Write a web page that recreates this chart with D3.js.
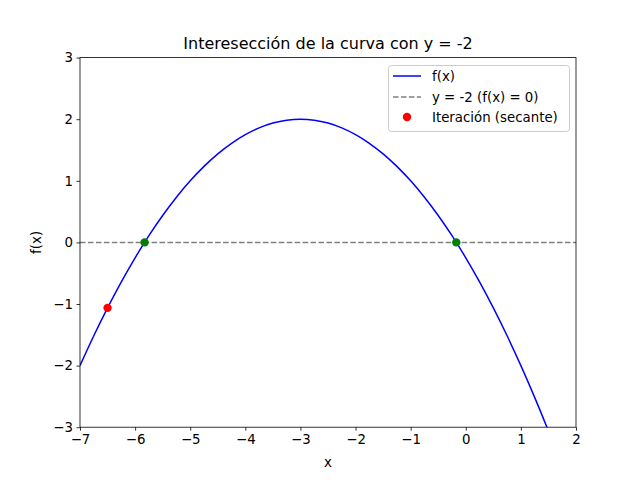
<!DOCTYPE html>
<html>
<head>
<meta charset="utf-8">
<script src="https://cdn.jsdelivr.net/npm/d3@7"></script>
<style>
  html, body { margin: 0; padding: 0; background: #fff; }
  svg text { font-family: "DejaVu Sans", sans-serif; }
</style>
</head>
<body>
<script>
// ---- Data ----
const curveX = [-7, -6.75, -6.5, -6.25, -6, -5.75, -5.5, -5.25, -5, -4.75, -4.5, -4.25, -4, -3.75, -3.5, -3.25, -3, -2.75, -2.5, -2.25, -2, -1.75, -1.5, -1.25, -1, -0.75, -0.5, -0.25, 0, 0.25, 0.5, 0.75, 1, 1.25, 1.5, 1.75, 2];
const curveY = [-2, -1.5156, -1.0625, -0.6406, -0.25, 0.1094, 0.4375, 0.7344, 1, 1.2344, 1.4375, 1.6094, 1.75, 1.8594, 1.9375, 1.9844, 2, 1.9844, 1.9375, 1.8594, 1.75, 1.6094, 1.4375, 1.2344, 1, 0.7344, 0.4375, 0.1094, -0.25, -0.6406, -1.0625, -1.5156, -2, -2.5156, -3.0625, -3.6406, -4.25];
const refLineY = 0;
const iterX = [-6.5];
const iterY = [-1.0625];
const rootX = [-5.828, -0.172];
const rootY = [0, 0];
const xTicks = [-7, -6, -5, -4, -3, -2, -1, 0, 1, 2];
const yTicks = [-3, -2, -1, 0, 1, 2, 3];
const title = "Interesección de la curva con y = -2";
const legendLabels = ["f(x)", "y = -2 (f(x) = 0)", "Iteración (secante)"];

// ---- Layout ----
const W = 640, H = 480;
const L = 80, R = 576, T = 57.6, B = 427.2;

const svg = d3.select("body").append("svg").attr("width", W).attr("height", H);

const x = d3.scaleLinear().domain([-7, 2]).range([L, R]);
const y = d3.scaleLinear().domain([-3, 3]).range([B, T]);

svg.append("defs").append("clipPath").attr("id", "clip")
  .append("rect").attr("x", L).attr("y", T).attr("width", R - L).attr("height", B - T);

const plot = svg.append("g").attr("clip-path", "url(#clip)");

// curve
const pts = curveX.map((v, i) => [v, curveY[i]]);
plot.append("path")
  .datum(pts)
  .attr("fill", "none")
  .attr("stroke", "blue")
  .attr("stroke-width", 1.5)
  .attr("d", d3.line().x(d => x(d[0])).y(d => y(d[1])).curve(d3.curveNatural));

// dashed reference line
plot.append("line")
  .attr("x1", L).attr("x2", R)
  .attr("y1", y(refLineY)).attr("y2", y(refLineY))
  .attr("stroke", "gray").attr("stroke-width", 1.5)
  .attr("stroke-dasharray", "5.55,2.4");

// iteration point
plot.selectAll("circle.iter").data(iterX).enter().append("circle")
  .attr("class", "iter")
  .attr("cx", d => x(d)).attr("cy", (d, i) => y(iterY[i]))
  .attr("r", 4.2).attr("fill", "red");

// roots
plot.selectAll("circle.root").data(rootX).enter().append("circle")
  .attr("class", "root")
  .attr("cx", d => x(d)).attr("cy", (d, i) => y(rootY[i]))
  .attr("r", 4.2).attr("fill", "green");

// axes
const fmt = d => (d < 0 ? "\u2212" + Math.abs(d) : String(d));
const xAxis = svg.append("g").attr("transform", `translate(0,${B})`)
  .call(d3.axisBottom(x).tickValues(xTicks).tickFormat(fmt).tickSize(3.5).tickPadding(3.5));
const yAxis = svg.append("g").attr("transform", `translate(${L},0)`)
  .call(d3.axisLeft(y).tickValues(yTicks).tickFormat(fmt).tickSize(3.5).tickPadding(3.5));
[xAxis, yAxis].forEach(a => {
  a.select(".domain").remove();
  a.selectAll("line").attr("stroke", "#000").attr("stroke-width", 0.8);
  a.selectAll("text").attr("font-size", "13.33px").attr("fill", "#000")
    .attr("font-family", "DejaVu Sans, sans-serif");
});

// frame
svg.append("rect").attr("x", L).attr("y", T).attr("width", R - L).attr("height", B - T)
  .attr("fill", "none").attr("stroke", "#000").attr("stroke-width", 0.8);

// labels
svg.append("text").attr("x", (L + R) / 2).attr("y", 49).attr("text-anchor", "middle")
  .attr("font-size", "16px").text(title);
svg.append("text").attr("x", (L + R) / 2).attr("y", 467).attr("text-anchor", "middle")
  .attr("font-size", "13.33px").text("x");
svg.append("text").attr("transform", `translate(41,${(T + B) / 2}) rotate(-90)`)
  .attr("text-anchor", "middle").attr("font-size", "13.33px").text("f(x)");

// legend
const lg = svg.append("g");
lg.append("rect").attr("x", 388.5).attr("y", 65.5).attr("width", 181).attr("height", 66)
  .attr("rx", 3).attr("fill", "white").attr("fill-opacity", 0.8)
  .attr("stroke", "#cccccc").attr("stroke-width", 1);
const rowY = [76, 97, 117];
lg.append("line").attr("x1", 393).attr("x2", 421).attr("y1", rowY[0]).attr("y2", rowY[0])
  .attr("stroke", "blue").attr("stroke-width", 1.5);
lg.append("line").attr("x1", 393).attr("x2", 421).attr("y1", rowY[1]).attr("y2", rowY[1])
  .attr("stroke", "gray").attr("stroke-width", 1.5).attr("stroke-dasharray", "5.55,2.4");
lg.append("circle").attr("cx", 407).attr("cy", rowY[2]).attr("r", 4.2).attr("fill", "red");
legendLabels.forEach((t, i) => {
  lg.append("text").attr("x", 432).attr("y", rowY[i]).attr("dy", "0.36em")
    .attr("font-size", "13.33px").text(t);
});
</script>
</body>
</html>
